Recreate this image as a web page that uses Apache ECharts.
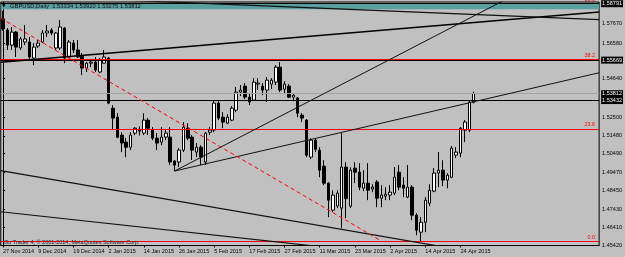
<!DOCTYPE html>
<html>
<head>
<meta charset="utf-8">
<style>
html,body{margin:0;padding:0;background:#c0c0c0;}
#chart{width:625px;height:257px;}
</style>
<script src="https://cdn.jsdelivr.net/npm/echarts@6/dist/echarts.min.js"></script>
</head>
<body>
<div id="chart"></div>
<script>
// ---- categories (trading days) ----
function days(list, month) { return list.split(' ').map(function (d) { return d + ' ' + month; }); }
var dates = [].concat(
  days('27 28', 'Nov 2014'),
  days('1 2 3 4 5 8 9 10 11 12 15 16 17 18 19 22 23 24 26 29 30 31', 'Dec 2014'),
  days('2 5 6 7 8 9 12 13 14 15 16 19 20 21 22 23 26 27 28 29 30', 'Jan 2015'),
  days('2 3 4 5 6 9 10 11 12 13 16 17 18 19 20 23 24 25 26 27', 'Feb 2015'),
  days('2 3 4 5 6 9 10 11 12 13 16 17 18 19 20 23 24 25 26 27 30 31', 'Mar 2015'),
  days('1 2 3 6 7 8 9 10 13 14 15 16 17 20 21 22 23 24 27 28 29', 'Apr 2015')
);
var futureSlots = 28;

// ---- OHLC values ----
var opens = [1.5795,1.5733,1.5650,1.5722,1.5634,1.5667,1.5667,1.5578,1.5645,1.5667,1.5717,1.5733,1.5634,1.5634,1.5744,1.5584,1.5661,1.5623,1.5589,1.5523,1.5550,1.5556,1.5501,1.5550,1.5578,
1.5301,1.5251,1.5152,1.5113,1.5085,1.5163,1.5185,1.5163,1.5235,1.5180,1.5135,1.5113,1.5141,1.5141,1.5008,1.5003,1.5069,1.5190,1.5141,1.5058,1.5085,1.5003,1.5168,1.5180,1.5329,
1.5251,1.5218,1.5235,1.5290,1.5390,1.5423,1.5362,1.5346,1.5434,1.5423,1.5401,1.5434,1.5445,1.5528,1.5406,1.5423,1.5362,1.5357,1.5262,1.5235,1.5030,1.5124,1.5069,1.4980,1.4886,
1.4737,1.4760,1.4748,1.4975,1.4759,1.4969,1.4947,1.4858,1.4886,1.4853,1.4892,1.4803,1.4814,1.4820,1.4831,1.4947,1.4875,1.4809,1.4864,1.4709,1.4615,1.4670,1.4775,1.4842,1.4942,
1.4958,1.4903,1.4919,1.5041,1.5052,1.5179,1.5180,1.53334];
var closes = [1.5740,1.5650,1.5722,1.5639,1.5684,1.5684,1.5584,1.5639,1.5661,1.5717,1.5728,1.5717,1.5717,1.5750,1.5578,1.5667,1.5623,1.5584,1.5523,1.5550,1.5556,1.5512,1.5567,1.5584,1.5329,
1.5246,1.5140,1.5108,1.5085,1.5152,1.5190,1.5174,1.5235,1.5190,1.5135,1.5108,1.5141,1.5163,1.5003,1.4986,1.5069,1.5196,1.5135,1.5069,1.5085,1.5030,1.5163,1.5180,1.5329,1.5246,
1.5224,1.5251,1.5301,1.5390,1.5401,1.5362,1.5335,1.5445,1.5440,1.5401,1.5456,1.5456,1.5528,1.5401,1.5434,1.5362,1.5373,1.5273,1.5246,1.5041,1.5124,1.5074,1.4958,1.4886,1.4792,
1.4820,1.4831,1.4975,1.4800,1.4958,1.4947,1.4864,1.4886,1.4847,1.4864,1.4803,1.4820,1.4825,1.4836,1.4919,1.4864,1.4858,1.4864,1.4709,1.4626,1.4670,1.4792,1.4847,1.4942,1.4958,
1.4903,1.4930,1.5080,1.5058,1.5190,1.5224,1.5334,1.53812];
var lows = [1.5730,1.5623,1.5623,1.5584,1.5623,1.5650,1.5567,1.5539,1.5634,1.5661,1.5695,1.5706,1.5623,1.5623,1.5550,1.5578,1.5606,1.5578,1.5484,1.5501,1.5528,1.5501,1.5495,1.5550,1.5323,
1.5180,1.5135,1.5058,1.5030,1.5069,1.5152,1.5150,1.5152,1.5152,1.5124,1.5069,1.5096,1.5124,1.4986,1.4953,1.4975,1.5058,1.5124,1.5014,1.5030,1.4986,1.4986,1.5152,1.5168,1.5235,
1.5190,1.5213,1.5229,1.5279,1.5368,1.5351,1.5318,1.5340,1.5401,1.5373,1.5335,1.5406,1.5429,1.5390,1.5384,1.5357,1.5346,1.5251,1.5224,1.5030,1.5019,1.5058,1.4919,1.4875,1.4698,
1.4725,1.4748,1.4637,1.4692,1.4748,1.4886,1.4847,1.4842,1.4792,1.4836,1.4753,1.4753,1.4792,1.4792,1.4820,1.4847,1.4809,1.4803,1.4681,1.4598,1.4566,1.4615,1.4759,1.4836,1.4864,
1.4870,1.4858,1.4914,1.5025,1.5030,1.5113,1.5168,1.53275];
var highs = [1.5840,1.5744,1.5750,1.5728,1.5695,1.5761,1.5695,1.5661,1.5678,1.5733,1.5761,1.5744,1.5722,1.5789,1.5750,1.5678,1.5678,1.5678,1.5606,1.5556,1.5567,1.5584,1.5578,1.5623,1.5584,
1.5318,1.5273,1.5168,1.5135,1.5168,1.5196,1.5200,1.5273,1.5246,1.5196,1.5163,1.5196,1.5185,1.5196,1.5014,1.5080,1.5224,1.5218,1.5152,1.5108,1.5096,1.5168,1.5196,1.5346,1.5340,
1.5279,1.5268,1.5312,1.5418,1.5429,1.5440,1.5384,1.5467,1.5467,1.5440,1.5473,1.5467,1.5539,1.5556,1.5451,1.5434,1.5384,1.5362,1.5273,1.5240,1.5135,1.5135,1.5085,1.5013,1.4892,
1.4847,1.4847,1.5163,1.5002,1.4974,1.5002,1.4997,1.4958,1.4997,1.4880,1.4903,1.4875,1.4864,1.4875,1.4975,1.4986,1.4919,1.4986,1.4875,1.4720,1.4698,1.4809,1.4880,1.4969,1.5058,
1.5013,1.4941,1.5091,1.5085,1.5196,1.5235,1.5346,1.53920];

// ---- right-axis tick labels ----
var priceTicks = [1.57670, 1.56580, 1.54640, 1.52500, 1.51480, 1.50490, 1.49470, 1.48450, 1.47430, 1.46410, 1.45420];

// ---- horizontal lines (price, label) ----
var hLines = [1.58791, 1.55669, 1.53432];
var bidPrice = 1.53812;
var fibLevels = [0.0, 23.6, 38.2, 50.0];
var fibPrices = [1.4566, 1.5186, 1.5569, 1.5879];
var rectBand = [1.5848, 1.5879];

// ---- trend lines: [barIndex, price] endpoints ----
var trendA = [[-0.5, 1.5555], [135.5, 1.5833]];
var trendB = [[-0.5, 1.5927], [135.5, 1.5791]];
var trendC = [[39, 1.4953], [120, 1.5975]];
var trendD = [[39, 1.4953], [135.5, 1.5497]];
var trendE = [[-0.5, 1.4955], [135.5, 1.4385]];
var trendF = [[-0.5, 1.4728], [135.5, 1.4366]];
var fibDiagonal = [[-0.5, 1.5799], [86, 1.4566]];

var categories = dates.concat(new Array(futureSlots).fill(''));
var ohlc = opens.map(function (o, i) { return [o, closes[i], lows[i], highs[i]]; });
var FONT = 'Liberation Sans';
var FS = 5.5;

function labelShown(i) { return i % 8 === 0 && i < dates.length; }

var markLines = [];
fibPrices.forEach(function (p, k) {
  markLines.push({
    yAxis: p,
    lineStyle: { color: '#ff0000', width: 1, type: 'solid' },
    label: { show: true, position: 'insideEndTop', formatter: fibLevels[k].toFixed(1), color: '#ff0000',
      fontSize: FS, fontFamily: FONT, distance: 1, padding: [0, 3, 0, 0] }
  });
});
markLines.push({
  yAxis: bidPrice,
  lineStyle: { color: '#a4a4a4', width: 1, type: 'solid' },
  label: { show: true, position: 'end', formatter: bidPrice.toFixed(5), color: '#fff', backgroundColor: '#000',
    fontSize: FS, fontFamily: FONT, distance: 2, padding: [1, 1, 0, 1] }
});
hLines.forEach(function (p) {
  markLines.push({
    yAxis: p,
    lineStyle: { color: '#000', width: 1, type: 'solid' },
    label: { show: true, position: 'end', formatter: p.toFixed(5), color: '#fff', backgroundColor: '#000',
      fontSize: FS, fontFamily: FONT, distance: 2, padding: [1, 1, 0, 1] }
  });
});

function trend(data, color, width, type) {
  return {
    type: 'line', xAxisIndex: 1, yAxisIndex: 0, data: data, symbol: 'none', silent: true,
    clip: true, z: 5, lineStyle: { color: color, width: width, type: type || 'solid' }, animation: false
  };
}

var chart = echarts.init(document.getElementById('chart'), null, { renderer: 'canvas' });
chart.setOption({
  backgroundColor: '#c0c0c0',
  animation: false,
  textStyle: { fontFamily: FONT },
  title: [
    { text: '▼', left: 2, top: 3, padding: 0, textStyle: { fontSize: 4.5, color: '#000', fontWeight: 'normal', fontFamily: 'DejaVu Sans' } },
    { text: 'GBPUSD,Daily  1.53334 1.53920 1.53275 1.53812', left: 10, top: 3, padding: 0,
      textStyle: { fontSize: 5.8, color: '#111', fontWeight: 'normal', fontFamily: FONT } },
    { text: 'Go Trader 4, © 2001-2014, MetaQuotes Software Corp.', left: 4, top: 239.8, padding: 0,
      textStyle: { fontSize: 5.5, color: '#222', fontWeight: 'normal', fontFamily: FONT } }
  ],
  grid: { left: 0.5, right: 20, top: 2, bottom: 11.5, show: true, backgroundColor: '#c0c0c0',
    borderColor: '#000', borderWidth: 1 },
  xAxis: [
    { type: 'category', data: categories, boundaryGap: true,
      axisLine: { show: true, lineStyle: { color: '#000', width: 1 } },
      axisTick: { show: true, interval: function (i) { return labelShown(i); }, alignWithLabel: true, length: 2,
        lineStyle: { color: '#000' } },
      axisLabel: { interval: function (i) { return labelShown(i); }, fontSize: FS, color: '#000', align: 'left',
        margin: 3, fontFamily: FONT },
      splitLine: { show: false } },
    { type: 'value', min: -0.5, max: 135.5, show: false }
  ],
  yAxis: [{
    type: 'value', position: 'right', min: 1.45411, max: 1.58885, scale: true,
    axisLine: { show: true, lineStyle: { color: '#000' } },
    axisTick: { show: true, customValues: priceTicks, length: 2, lineStyle: { color: '#000' } },
    axisLabel: { customValues: priceTicks, fontSize: FS, color: '#000', margin: 3, fontFamily: FONT,
      formatter: function (v) { return v.toFixed(5); } },
    splitLine: { show: false }
  }],
  series: [
    {
      type: 'candlestick', xAxisIndex: 0, yAxisIndex: 0, data: ohlc, barWidth: 3, z: 3,
      itemStyle: { color: '#ffffff', color0: '#000000', borderColor: '#000000', borderColor0: '#000000', borderWidth: 1 },
      markArea: { silent: true, itemStyle: { color: '#58a0a2' },
        data: [[{ yAxis: rectBand[0] }, { yAxis: rectBand[1] }]] },
      markLine: { silent: true, symbol: ['none', 'none'], precision: 5, animation: false, data: markLines }
    },
    trend(trendA, '#000', 1.6),
    trend(trendB, '#111', 1.3),
    trend(trendC, '#111', 1),
    trend(trendD, '#111', 1),
    trend(trendE, '#111', 1.2),
    trend(trendF, '#111', 1.2),
    trend(fibDiagonal, '#ff0000', 1, [4, 3])
  ]
});
</script>
</body>
</html>
